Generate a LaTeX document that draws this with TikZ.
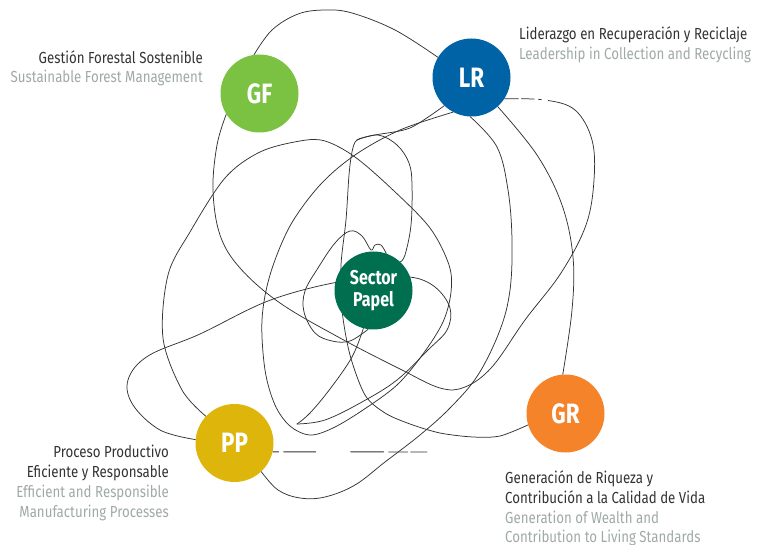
\documentclass[tikz,border=0pt]{standalone}
\usepackage{fontspec}
\setmainfont{Fira Sans}[FakeStretch=0.83]
\newfontfamily\badgefont{Fira Sans}[FakeStretch=0.8, UprightFont={* Bold}]
\usetikzlibrary{backgrounds}

\definecolor{gfgreen}{HTML}{7CC242}
\definecolor{lrblue}{HTML}{0063A6}
\definecolor{spgreen}{HTML}{006F4F}
\definecolor{ppyellow}{HTML}{DEB60B}
\definecolor{grorange}{HTML}{F5832A}
\definecolor{inkdark}{HTML}{333333}
\definecolor{inksoft}{HTML}{9FAAA5}

\tikzset{
  badge/.style={circle, minimum size=78pt, inner sep=0pt, text=white,
    font=\badgefont\fontsize{28}{28}\selectfont},
  tangle/.style={line width=0.75pt, draw=black!80, line cap=round, line join=round},
  caption/.style={inner sep=0pt, text=inkdark, font=\fontsize{16}{20}\selectfont},
  subcaption/.style={caption, text=inksoft},
}

\begin{document}
\begin{tikzpicture}[x=1pt, y=-1pt]
\useasboundingbox (0,0) rectangle (758,545);

% the five topic discs
\node[badge, fill=gfgreen]  (gf) at (259.5,93.5)  {GF};
\node[badge, fill=lrblue]   (lr) at (471.5,77.5)  {LR};
\node[badge, fill=spgreen, align=center,
      font=\badgefont\fontsize{20}{22}\selectfont] (sp) at (373.5,290.5) {Sector\\Papel};
\node[badge, fill=ppyellow] (pp) at (234.5,443)   {PP};
\node[badge, fill=grorange] (gr) at (565.5,413.5) {GR};

% captions
\node[caption, anchor=base east]    (gf-es) at (203,64) {Gestión Forestal Sostenible};
\node[subcaption, anchor=base east] (gf-en) at (203,83) {Sustainable Forest Management};

\node[caption, anchor=base west]    (lr-es) at (519,40) {Liderazgo en Recuperación y Reciclaje};
\node[subcaption, anchor=base west] (lr-en) at (519,60) {Leadership in Collection and Recycling};

\node[caption, anchor=base east]    (pp-es1) at (169,457) {Proceso Productivo};
\node[caption, anchor=base east]    (pp-es2) at (169,477) {Eficiente y Responsable};
\node[subcaption, anchor=base east] (pp-en1) at (169,497) {Efficient and Responsible};
\node[subcaption, anchor=base east] (pp-en2) at (169,517) {Manufacturing Processes};

\node[caption, anchor=base west]    (gr-es1) at (505,483) {Generación de Riqueza y};
\node[caption, anchor=base west]    (gr-es2) at (505,503) {Contribución a la Calidad de Vida};
\node[subcaption, anchor=base west] (gr-en1) at (505,523) {Generation of Wealth and};
\node[subcaption, anchor=base west] (gr-en2) at (505,542) {Contribution to Living Standards};

% free ends of the tangle
\coordinate (bend) at (357,140);
\coordinate (knot) at (297,424);
\coordinate (ppend) at (427,452);

\begin{pgfonlayer}{background}
  % arc over the top, GF to LR
  \draw[tangle] plot[smooth, tension=0.6] coordinates {
    (gf.98) (272,30) (298,14) (325,10) (352,13) (395,30) (lr.149)};
  % LR round the right side and bottom back to GF
  \draw[tangle, dash pattern=on 14pt off 3pt on 13pt off 4pt on 3pt off 7pt on 3000pt off 1pt]
    plot[smooth, tension=0.6] coordinates {
    (lr.-33) (545,100) (575,110) (592,140) (594,180) (586,225) (561,273)
    (525,320) (492,367) (465,387) (440,388) (400,369) (340,338) (280,303)
    (240,268) (220,235) (213,190) (217,145) (gf.212)};
  % LR down to GR
  \draw[tangle] plot[smooth, tension=0.6] coordinates {
    (lr.-48) (537,155) (562,205) (573,257) (572,310) (gr.94)};
  % LR down to PP
  \draw[tangle] plot[smooth, tension=0.6] coordinates {
    (lr.268) (497,147) (508,190) (512,240) (510,290) (500,330) (478,375)
    (450,408) (420,435) (385,462) (355,485) (325,497) (300,498) (278,490) (pp.-47)};
  % big loop out of PP, over GF's side and back to LR
  \draw[tangle] plot[smooth, tension=0.55] coordinates {
    (pp.137) (182,390) (163,338) (168,275) (190,232) (225,178) (260,152)
    (300,141) (325,141) (355,157) (393,190) (430,228) (449,265) (451,292)
    (443,322) (423,354) (397,385) (363,410) (333,428) (310,435) (290,426)
    (275,405) (265,370) (262,320) (270,275) (290,226) (320,185) (355,155)
    (400,130) (lr.242)};
  % LR through the centre down to GR
  \draw[tangle] plot[smooth, tension=0.5] coordinates {
    (lr.226) (410,128) (375,135) (bend) (352,152) (349,175) (346,220)
    (341,265) (342,310) (350,355) (365,395) (385,413) (410,424) (440,433)
    (473,437) (500,436) (gr.197)};
  % rounded shoulder down to the centre
  \draw[tangle] plot[smooth, tension=0.6] coordinates {
    (bend) (378,135) (397,145) (409,163) (412,185) (411,225) (405,255) (sp.47)};
  % long sweep from PP through the centre and back round
  \draw[tangle] plot[smooth, tension=0.6] coordinates {
    (pp.175) (160,430) (133,405) (128,380) (148,356) (200,334) (268,301)
    (333,283) (373,280) (sp.20) (435,287) (450,308) (447,330) (428,350)
    (397,380) (362,402) (325,420) (knot)};
  % small loop under and over the centre
  \draw[tangle] plot[smooth, tension=0.6] coordinates {
    (sp.262) (350,341) (332,341) (315,333) (304,312) (305,291) (318,268)
    (335,243) (350,231) (362,236) (371,250) (375,245) (381,245) (sp.71)};
  % short drop from the centre to the lower knot
  \draw[tangle] plot[smooth, tension=0.6] coordinates {
    (sp.255) (352,357) (330,389) (310,413) (knot)};
  % broken rule to the right of PP
  \draw[tangle, line width=0.9pt,
        dash pattern=on 6pt off 5pt on 32pt off 35pt on 33pt off 5pt on 19pt off 3pt on 17pt off 100pt]
    (pp.-13) -- (ppend);
\end{pgfonlayer}
\end{tikzpicture}
\end{document}
